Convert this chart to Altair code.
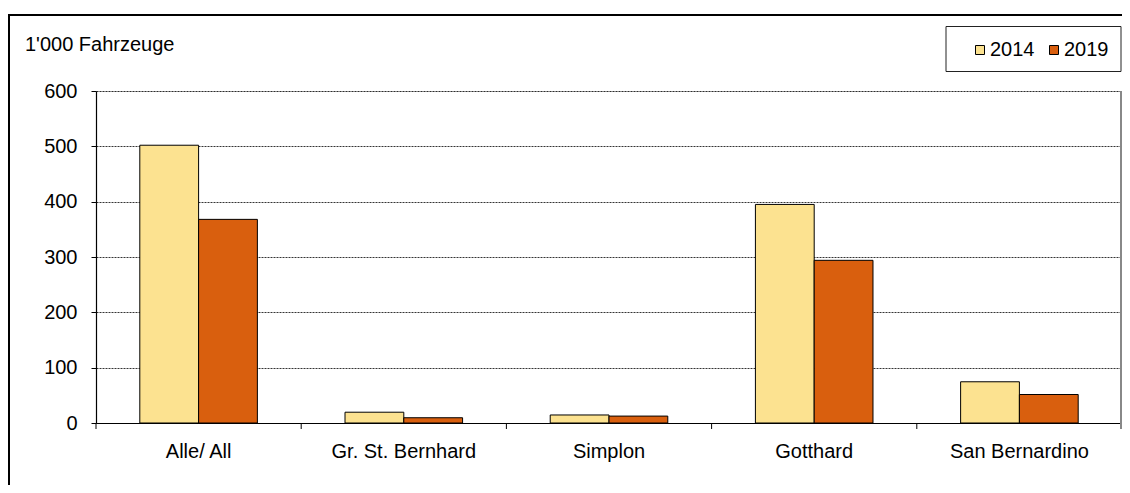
import altair as alt
import pandas as pd

categories = ["Alle/ All", "Gr. St. Bernhard", "Simplon", "Gotthard", "San Bernardino"]
years = ["2014", "2019"]
values_2014 = [502, 19.5, 14.5, 395, 74.5]
values_2019 = [368, 9.5, 12.5, 294, 51.5]
y_ticks = [0, 100, 200, 300, 400, 500, 600]
unit_label = "1'000 Fahrzeuge"
colors = ["#FCE290", "#D95F0E"]

FONT = "Liberation Sans"
FS = 20
W, H = 1026, 332
LEFT = 88

rows = []
for c, a, b in zip(categories, values_2014, values_2019):
    rows.append({"cat": c, "year": years[0], "val": a})
    rows.append({"cat": c, "year": years[1], "val": b})
df = pd.DataFrame(rows)
cat_df = pd.DataFrame({"cat": categories})

frame = alt.Chart(pd.DataFrame({"d": [0]})).mark_rect(
    fill="white", fillOpacity=0, stroke="black", strokeWidth=2
).encode(
    x=alt.value(-LEFT + 1), x2=alt.value(W + 40), y=alt.value(-76), y2=alt.value(H + 120)
)

bars = alt.Chart(df).mark_bar(stroke="black", strokeWidth=1).encode(
    x=alt.X("cat:N", sort=categories, scale=alt.Scale(paddingInner=0.427, paddingOuter=0.2135),
            axis=alt.Axis(title=None, ticks=False, labelAngle=0, labelPadding=18,
                          domainColor="black", domainWidth=1.2, labelFont=FONT,
                          labelFontSize=FS, labelColor="black", grid=False)),
    xOffset=alt.XOffset("year:N", sort=years, scale=alt.Scale(paddingInner=0, paddingOuter=0)),
    y=alt.Y("val:Q", scale=alt.Scale(domain=[0, 600], nice=False),
            axis=alt.Axis(title=None, values=y_ticks, tickSize=5, tickColor="black",
                          domainColor="black", domainWidth=1.2, labelPadding=14,
                          labelFont=FONT, labelFontSize=FS, labelColor="black",
                          grid=True, gridColor="black", gridDash=[2, 1], gridWidth=0.8)),
    color=alt.Color("year:N", sort=years,
                    scale=alt.Scale(domain=years, range=colors),
                    legend=alt.Legend(title=None, orient="none", direction="horizontal",
                                      legendX=874, legendY=-51, padding=0,
                                      symbolType="square", symbolSize=81,
                                      symbolStrokeColor="black", symbolStrokeWidth=1,
                                      labelFont=FONT, labelFontSize=FS, labelColor="black",
                                      labelOffset=0, columnPadding=9)),
)

xticks = alt.Chart(cat_df).mark_rule(color="black", strokeWidth=1).encode(
    x=alt.X("cat:N", sort=categories, scale=alt.Scale(paddingInner=0, paddingOuter=0),
            axis=None, bandPosition=0),
    y=alt.value(H), y2=alt.value(H + 6),
)

right_border = alt.Chart(pd.DataFrame({"d": [0]})).mark_rule(color="#888888", strokeWidth=2).encode(
    x=alt.value(W - 1), y=alt.value(0), y2=alt.value(H + 6)
)

legend_box = alt.Chart(pd.DataFrame({"d": [0]})).mark_rect(
    fill="white", stroke="#222222", strokeWidth=1
).encode(
    x=alt.value(850), x2=alt.value(W - 1), y=alt.value(-64.5), y2=alt.value(-19.5)
)

title = alt.Chart(pd.DataFrame({"t": [unit_label]})).mark_text(
    align="left", baseline="alphabetic", font=FONT, fontSize=FS, color="black"
).encode(text="t:N", x=alt.value(-71), y=alt.value(-40))

chart = alt.layer(frame, legend_box, bars, xticks, right_border, title).resolve_scale(
    x="independent"
).properties(
    width=W, height=H,
    autosize=alt.AutoSizeParams(type="none"),
    padding={"left": LEFT, "top": 83, "right": 0, "bottom": 62},
).configure_view(stroke=None).configure(background="white")

chart.save("out.html", embed_options={"renderer": "svg", "actions": False})
